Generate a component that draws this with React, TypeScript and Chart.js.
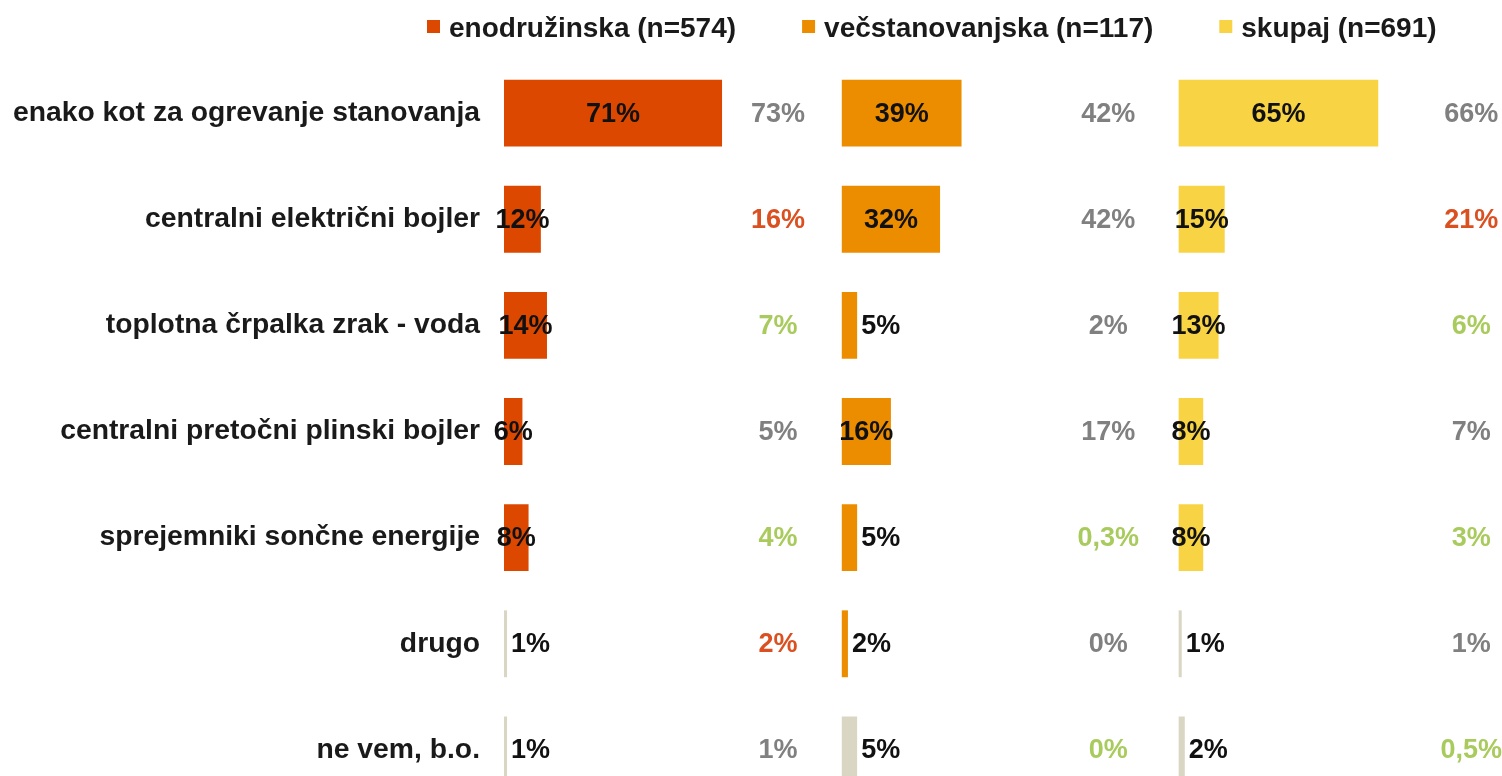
import React, { useEffect, useRef } from "react";
import { Chart, registerables } from "chart.js";

Chart.register(...registerables);

// ---- data ----
const categories = [
  "enako kot za ogrevanje stanovanja",
  "centralni električni bojler",
  "toplotna črpalka zrak - voda",
  "centralni pretočni plinski bojler",
  "sprejemniki sončne energije",
  "drugo",
  "ne vem, b.o.",
];
const seriesNames = ["enodružinska (n=574)", "večstanovanjska (n=117)", "skupaj (n=691)"];
const enodruzinska = [71, 12, 14, 6, 8, 1, 1];
const vecstanovanjska = [39, 32, 5, 16, 5, 2, 5];
const skupaj = [65, 15, 13, 8, 8, 1, 2];
// comparison values (right of each panel)
const primerjavaEno = [73, 16, 7, 5, 4, 2, 1];
const primerjavaVec = [42, 42, 2, 17, 0.3, 0, 0];
const primerjavaSku = [66, 21, 6, 7, 3, 1, 0.5];
// significance: n = no difference, h = higher, l = lower
const razlikaEno = ["n", "h", "l", "n", "l", "h", "n"];
const razlikaVec = ["n", "n", "n", "n", "l", "n", "l"];
const razlikaSku = ["n", "h", "l", "n", "l", "n", "l"];

// ---- styling / layout ----
const FONT = "'Liberation Sans', Arial, Helvetica, sans-serif";
const seriesColors = ["#DC4800", "#EC8D00", "#F8D444"];
const otherColor = "#DAD6C4";
const sigColors: Record<string, string> = { n: "#808080", h: "#DB5020", l: "#A9CB5D" };
const panelOffsets = [0, 110, 219.7];
const compColumns = [89.2, 196.8, 315];

const seriesValues = [enodruzinska, vecstanovanjska, skupaj];
const compValues = [primerjavaEno, primerjavaVec, primerjavaSku];
const compSig = [razlikaEno, razlikaVec, razlikaSku];
// colour of each bar: last categories are shown in neutral colour
const barColorsEno = [0, 0, 0, 0, 0, 1, 1];
const barColorsVec = [0, 0, 0, 0, 0, 0, 1];
const barColorsSku = [0, 0, 0, 0, 0, 1, 1];
const barColorFlags = [barColorsEno, barColorsVec, barColorsSku];

const fmt = (v: number) => String(v).replace(".", ",") + "%";

const labelsPlugin = {
  id: "customLabels",
  afterDatasetsDraw(chart: any) {
    const ctx = chart.ctx;
    const xScale = chart.scales.x;
    ctx.save();
    chart.data.datasets.forEach((ds: any, i: number) => {
      const meta = chart.getDatasetMeta(i);
      meta.data.forEach((bar: any, j: number) => {
        const v = seriesValues[i][j];
        const left = Math.min(bar.x, bar.base);
        const right = Math.max(bar.x, bar.base);
        ctx.font = `bold 27px ${FONT}`;
        ctx.fillStyle = "#111111";
        ctx.textBaseline = "middle";
        if (v >= 6) {
          ctx.textAlign = "center";
          ctx.fillText(fmt(v), (left + right) / 2, bar.y + 1);
        } else {
          ctx.textAlign = "left";
          ctx.fillText(fmt(v), right + 4, bar.y + 1);
        }
        // comparison value
        const cx = xScale.getPixelForValue(compColumns[i]);
        ctx.textAlign = "center";
        ctx.fillStyle = sigColors[compSig[i][j]];
        ctx.fillText(fmt(compValues[i][j]), cx, bar.y + 1);
      });
    });
    ctx.restore();
  },
  afterDraw(chart: any) {
    const ctx = chart.ctx;
    ctx.save();
    ctx.font = `bold 28px ${FONT}`;
    ctx.textBaseline = "middle";
    ctx.textAlign = "left";
    let x = 427;
    seriesNames.forEach((name, i) => {
      ctx.fillStyle = seriesColors[i];
      ctx.fillRect(x, 20, 13, 13);
      ctx.fillStyle = "#1a1a1a";
      ctx.fillText(name, x + 22, 29);
      x += 22 + ctx.measureText(name).width + 66;
    });
    ctx.restore();
  },
};

export default function App() {
  const ref = useRef<HTMLCanvasElement | null>(null);
  useEffect(() => {
    if (!ref.current) return;
    const datasets = seriesValues.map((vals, i) => ({
      label: seriesNames[i],
      data: vals.map((v) => [panelOffsets[i], panelOffsets[i] + v]),
      backgroundColor: vals.map((_, j) => (barColorFlags[i][j] ? otherColor : seriesColors[i])),
      borderWidth: 0,
      grouped: false,
      barPercentage: 0.63,
      categoryPercentage: 1,
    }));
    const chart = new Chart(ref.current, {
      type: "bar",
      data: { labels: categories, datasets },
      options: {
        indexAxis: "y",
        responsive: false,
        animation: false,
        devicePixelRatio: 1,
        layout: { padding: { top: 60, left: 0, right: 0, bottom: 0 } },
        plugins: { legend: { display: false }, tooltip: { enabled: false } },
        scales: {
          x: { display: false, min: 0, max: 325 },
          y: {
            grid: { display: false, drawTicks: false },
            border: { display: false },
            ticks: {
              padding: 24,
              color: "#1a1a1a",
              font: { family: FONT, size: 28.3, weight: "bold" },
            },
            afterFit(scale: any) {
              scale.width = 504;
              scale.paddingTop = 0;
              scale.paddingBottom = 0;
            },
          },
        },
      },
      plugins: [labelsPlugin],
    } as any);
    return () => chart.destroy();
  }, []);
  return (
    <div style={{ position: "fixed", left: 0, top: 0, width: 1502, height: 776, overflow: "hidden", background: "#fff" }}>
      <canvas ref={ref} width={1502} height={803} style={{ width: 1502, height: 803, display: "block" }} />
    </div>
  );
}
